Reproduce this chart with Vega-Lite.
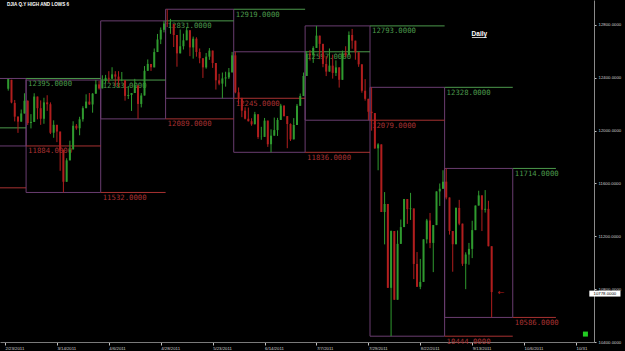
{
  "$schema": "https://vega.github.io/schema/vega-lite/v6.json",
  "width": 594,
  "height": 342,
  "autosize": {"type": "none"},
  "padding": {"left": 0, "top": 0, "right": 31, "bottom": 9},
  "background": "#000000",
  "config": {"view": {"stroke": null}},
  "datasets": {
    "candles": [
      {"t":-6,"o":12318,"h":12391,"l":12303,"c":12391},
      {"t":-5,"o":12385,"h":12385,"l":12207,"c":12213},
      {"t":-4,"o":12210,"h":12232,"l":12070,"c":12106},
      {"t":-3,"o":12105,"h":12110,"l":11983,"c":12068},
      {"t":-2,"o":12068,"h":12160,"l":12068,"c":12130},
      {"t":-1,"o":12130,"h":12283,"l":12130,"c":12226},
      {"t":0,"o":12226,"h":12229,"l":12043,"c":12058},
      {"t":1,"o":12058,"h":12125,"l":12017,"c":12066},
      {"t":2,"o":12066,"h":12283,"l":12066,"c":12258},
      {"t":3,"o":12258,"h":12258,"l":12086,"c":12170},
      {"t":4,"o":12170,"h":12229,"l":12044,"c":12090},
      {"t":5,"o":12090,"h":12249,"l":12052,"c":12214},
      {"t":6,"o":12214,"h":12268,"l":12150,"c":12200},
      {"t":7,"o":12200,"h":12214,"l":11974,"c":11984},
      {"t":8,"o":11984,"h":12078,"l":11946,"c":12044},
      {"t":9,"o":12044,"h":12044,"l":11913,"c":11993},
      {"t":10,"o":11993,"h":11993,"l":11696,"c":11855},
      {"t":11,"o":11855,"h":11855,"l":11532,"c":11613},
      {"t":12,"o":11613,"h":11791,"l":11613,"c":11775},
      {"t":13,"o":11775,"h":11924,"l":11775,"c":11858},
      {"t":14,"o":11858,"h":12071,"l":11858,"c":12037},
      {"t":15,"o":12037,"h":12050,"l":12007,"c":12018},
      {"t":16,"o":12018,"h":12105,"l":11965,"c":12086},
      {"t":17,"o":12086,"h":12185,"l":12068,"c":12170},
      {"t":18,"o":12170,"h":12275,"l":12170,"c":12220},
      {"t":19,"o":12220,"h":12285,"l":12196,"c":12198},
      {"t":20,"o":12198,"h":12284,"l":12136,"c":12280},
      {"t":21,"o":12280,"h":12383,"l":12279,"c":12350},
      {"t":22,"o":12350,"h":12376,"l":12311,"c":12320},
      {"t":23,"o":12320,"h":12419,"l":12320,"c":12377},
      {"t":24,"o":12377,"h":12422,"l":12356,"c":12400},
      {"t":25,"o":12400,"h":12450,"l":12364,"c":12393},
      {"t":26,"o":12393,"h":12480,"l":12393,"c":12426},
      {"t":27,"o":12426,"h":12450,"l":12336,"c":12409},
      {"t":28,"o":12409,"h":12450,"l":12330,"c":12380},
      {"t":29,"o":12380,"h":12444,"l":12373,"c":12381},
      {"t":30,"o":12381,"h":12381,"l":12227,"c":12263},
      {"t":31,"o":12263,"h":12338,"l":12240,"c":12270},
      {"t":32,"o":12270,"h":12285,"l":12149,"c":12285},
      {"t":33,"o":12285,"h":12392,"l":12285,"c":12342},
      {"t":34,"o":12342,"h":12342,"l":12089,"c":12202},
      {"t":35,"o":12202,"h":12284,"l":12176,"c":12266},
      {"t":36,"o":12266,"h":12489,"l":12266,"c":12453},
      {"t":37,"o":12453,"h":12539,"l":12453,"c":12505},
      {"t":38,"o":12505,"h":12505,"l":12452,"c":12479},
      {"t":39,"o":12479,"h":12622,"l":12479,"c":12595},
      {"t":40,"o":12595,"h":12732,"l":12595,"c":12690},
      {"t":41,"o":12690,"h":12781,"l":12655,"c":12763},
      {"t":42,"o":12763,"h":12831,"l":12744,"c":12811},
      {"t":43,"o":12811,"h":12919,"l":12784,"c":12807},
      {"t":44,"o":12807,"h":12846,"l":12733,"c":12808},
      {"t":45,"o":12808,"h":12808,"l":12633,"c":12724},
      {"t":46,"o":12724,"h":12724,"l":12484,"c":12585},
      {"t":47,"o":12585,"h":12766,"l":12585,"c":12639},
      {"t":48,"o":12639,"h":12734,"l":12614,"c":12684},
      {"t":49,"o":12684,"h":12785,"l":12684,"c":12760},
      {"t":50,"o":12760,"h":12760,"l":12564,"c":12630},
      {"t":51,"o":12630,"h":12712,"l":12545,"c":12696},
      {"t":52,"o":12696,"h":12707,"l":12560,"c":12595},
      {"t":53,"o":12595,"h":12622,"l":12510,"c":12548},
      {"t":54,"o":12548,"h":12548,"l":12399,"c":12479},
      {"t":55,"o":12479,"h":12588,"l":12469,"c":12560},
      {"t":56,"o":12560,"h":12625,"l":12536,"c":12606},
      {"t":57,"o":12606,"h":12606,"l":12475,"c":12512},
      {"t":58,"o":12512,"h":12512,"l":12311,"c":12381},
      {"t":59,"o":12381,"h":12430,"l":12344,"c":12356},
      {"t":60,"o":12356,"h":12440,"l":12245,"c":12395},
      {"t":61,"o":12395,"h":12446,"l":12333,"c":12403},
      {"t":62,"o":12403,"h":12474,"l":12391,"c":12441},
      {"t":63,"o":12441,"h":12596,"l":12441,"c":12570},
      {"t":64,"o":12570,"h":12597,"l":12283,"c":12290},
      {"t":65,"o":12290,"h":12327,"l":12201,"c":12248},
      {"t":66,"o":12248,"h":12248,"l":12102,"c":12151},
      {"t":67,"o":12151,"h":12177,"l":12085,"c":12090},
      {"t":68,"o":12090,"h":12175,"l":12070,"c":12071},
      {"t":69,"o":12071,"h":12094,"l":12037,"c":12048},
      {"t":70,"o":12048,"h":12142,"l":12048,"c":12124},
      {"t":71,"o":12124,"h":12124,"l":11938,"c":11952},
      {"t":72,"o":11952,"h":12029,"l":11931,"c":11953},
      {"t":73,"o":11953,"h":12096,"l":11953,"c":12076},
      {"t":74,"o":12076,"h":12076,"l":11877,"c":11897},
      {"t":75,"o":11897,"h":12010,"l":11836,"c":11962},
      {"t":76,"o":11962,"h":12099,"l":11962,"c":12004},
      {"t":77,"o":12004,"h":12097,"l":11960,"c":12081},
      {"t":78,"o":12081,"h":12203,"l":12081,"c":12190},
      {"t":79,"o":12190,"h":12190,"l":12107,"c":12110},
      {"t":80,"o":12110,"h":12110,"l":11867,"c":12050},
      {"t":81,"o":12050,"h":12055,"l":11922,"c":11934},
      {"t":82,"o":11934,"h":12095,"l":11934,"c":12043},
      {"t":83,"o":12043,"h":12202,"l":12043,"c":12188},
      {"t":84,"o":12188,"h":12281,"l":12188,"c":12262},
      {"t":85,"o":12262,"h":12440,"l":12262,"c":12414},
      {"t":86,"o":12414,"h":12599,"l":12414,"c":12582},
      {"t":87,"o":12582,"h":12610,"l":12531,"c":12570},
      {"t":88,"o":12570,"h":12639,"l":12513,"c":12626},
      {"t":89,"o":12626,"h":12793,"l":12626,"c":12719},
      {"t":90,"o":12719,"h":12719,"l":12541,"c":12657},
      {"t":91,"o":12657,"h":12657,"l":12480,"c":12505},
      {"t":92,"o":12505,"h":12566,"l":12413,"c":12447},
      {"t":93,"o":12447,"h":12622,"l":12447,"c":12492},
      {"t":94,"o":12492,"h":12575,"l":12394,"c":12437},
      {"t":95,"o":12437,"h":12532,"l":12414,"c":12479},
      {"t":96,"o":12479,"h":12479,"l":12326,"c":12385},
      {"t":97,"o":12385,"h":12606,"l":12385,"c":12587},
      {"t":98,"o":12587,"h":12639,"l":12556,"c":12571},
      {"t":99,"o":12571,"h":12751,"l":12571,"c":12724},
      {"t":100,"o":12724,"h":12770,"l":12620,"c":12681},
      {"t":101,"o":12681,"h":12681,"l":12537,"c":12593},
      {"t":102,"o":12593,"h":12593,"l":12483,"c":12502},
      {"t":103,"o":12502,"h":12502,"l":12287,"c":12302},
      {"t":104,"o":12302,"h":12390,"l":12227,"c":12241},
      {"t":105,"o":12241,"h":12241,"l":12079,"c":12143},
      {"t":106,"o":12143,"h":12328,"l":12000,"c":12133},
      {"t":107,"o":12133,"h":12133,"l":11862,"c":11866},
      {"t":108,"o":11866,"h":11905,"l":11700,"c":11896},
      {"t":109,"o":11896,"h":11896,"l":11384,"c":11384},
      {"t":110,"o":11384,"h":11535,"l":11139,"c":11445},
      {"t":111,"o":11445,"h":11445,"l":10810,"c":10810},
      {"t":112,"o":10810,"h":11244,"l":10444,"c":11240},
      {"t":113,"o":11240,"h":11240,"l":10719,"c":10720},
      {"t":114,"o":10720,"h":11244,"l":10720,"c":11143},
      {"t":115,"o":11143,"h":11327,"l":11143,"c":11270},
      {"t":116,"o":11270,"h":11483,"l":11270,"c":11482},
      {"t":117,"o":11482,"h":11482,"l":11294,"c":11406},
      {"t":118,"o":11406,"h":11529,"l":11324,"c":11411},
      {"t":119,"o":11411,"h":11411,"l":10876,"c":10991},
      {"t":120,"o":10991,"h":11081,"l":10817,"c":10818},
      {"t":121,"o":10818,"h":11029,"l":10800,"c":10855},
      {"t":122,"o":10855,"h":11177,"l":10855,"c":11177},
      {"t":123,"o":11177,"h":11332,"l":11146,"c":11320},
      {"t":124,"o":11320,"h":11377,"l":11110,"c":11150},
      {"t":125,"o":11150,"h":11286,"l":10929,"c":11285},
      {"t":126,"o":11285,"h":11540,"l":11285,"c":11540},
      {"t":127,"o":11540,"h":11600,"l":11430,"c":11560},
      {"t":128,"o":11560,"h":11700,"l":11560,"c":11614},
      {"t":129,"o":11614,"h":11714,"l":11480,"c":11494},
      {"t":130,"o":11494,"h":11494,"l":11213,"c":11240},
      {"t":131,"o":11240,"h":11240,"l":10932,"c":11140},
      {"t":132,"o":11140,"h":11419,"l":11140,"c":11415},
      {"t":133,"o":11415,"h":11476,"l":11284,"c":11296},
      {"t":134,"o":11296,"h":11296,"l":10976,"c":10992},
      {"t":135,"o":10992,"h":11079,"l":10800,"c":11062},
      {"t":136,"o":11062,"h":11150,"l":10985,"c":11105},
      {"t":137,"o":11105,"h":11318,"l":11035,"c":11247},
      {"t":138,"o":11247,"h":11433,"l":11247,"c":11433},
      {"t":139,"o":11433,"h":11545,"l":11433,"c":11510},
      {"t":140,"o":11510,"h":11510,"l":11240,"c":11401},
      {"t":141,"o":11401,"h":11550,"l":11380,"c":11408},
      {"t":142,"o":11408,"h":11469,"l":11124,"c":11125},
      {"t":143,"o":11125,"h":11125,"l":10586,"c":10778}
    ],
    "boxes": [
      {"t0":-25.5,"t1":-0.5,"hi":12395,"lo":11884},
      {"t0":-0.5,"t1":22.5,"hi":12383,"lo":11532},
      {"t0":22.5,"t1":42.5,"hi":12831,"lo":12089},
      {"t0":42.5,"t1":63.5,"hi":12919,"lo":12245},
      {"t0":63.5,"t1":85.5,"hi":12597,"lo":11836},
      {"t0":85.5,"t1":105.5,"hi":12793,"lo":12079},
      {"t0":105.5,"t1":128.5,"hi":12328,"lo":10444},
      {"t0":128.5,"t1":149.5,"hi":11714,"lo":10586}
    ],
    "levels": [
      {"t0":-25.5,"t1":-0.5,"v":12021,"kind":"high"},
      {"t0":-25.5,"t1":-0.5,"v":11567,"kind":"low"},
      {"t0":-0.5,"t1":22.5,"v":12395,"kind":"high"},
      {"t0":-0.5,"t1":22.5,"v":11884,"kind":"low"},
      {"t0":22.5,"t1":42.5,"v":12383,"kind":"high"},
      {"t0":22.5,"t1":42.5,"v":11532,"kind":"low"},
      {"t0":42.5,"t1":63.5,"v":12831,"kind":"high"},
      {"t0":42.5,"t1":63.5,"v":12089,"kind":"low"},
      {"t0":63.5,"t1":85.5,"v":12919,"kind":"high"},
      {"t0":63.5,"t1":85.5,"v":12245,"kind":"low"},
      {"t0":85.5,"t1":105.5,"v":12597,"kind":"high"},
      {"t0":85.5,"t1":105.5,"v":11836,"kind":"low"},
      {"t0":105.5,"t1":128.5,"v":12793,"kind":"high"},
      {"t0":105.5,"t1":128.5,"v":12079,"kind":"low"},
      {"t0":128.5,"t1":149.5,"v":12328,"kind":"high"},
      {"t0":128.5,"t1":149.5,"v":10444,"kind":"low"},
      {"t0":149.5,"t1":162.8,"v":11714,"kind":"high"},
      {"t0":149.5,"t1":162.8,"v":10586,"kind":"low"}
    ],
    "title": [{"t":-6.4,"v":12951,"label":"DJIA Q.Y HIGH AND LOWS 6"}],
    "daily": [{"t":139.2,"v":12732,"label":"Daily"}],
    "price": [{"t0":173.1,"t1":182.7,"tm":177.9,"hi":10789,"lo":10744,"v":10766,"label":"10778.0000"}],
    "arrow": [{"t":144.9,"v":10773,"label":"←"}],
    "underline": [{"t0":136.9,"t1":141.5,"v":12705}],
    "marker": [{"t":171.9,"v":10460}]
  },
  "layer": [
    {
      "data": {"name": "boxes"},
      "mark": {"type": "rect", "fill": null, "fillOpacity": 0, "stroke": "#6a3d70", "strokeWidth": 1},
      "encoding": {
        "x": {"field": "t0", "type": "quantitative", "scale": {"domain": [-7, 173], "nice": false, "zero": false},
          "axis": {
            "values": [-7,1,9,17,25,33,41,49,57,65,73,81,89,97,105,113,121,129,137,145,153,161,169],
            "labelExpr": "['2/23/2011','3/3/2011','3/14/2011','3/25/2011','4/6/2011','4/17/2011','4/28/2011','5/11/2011','5/23/2011','6/3/2011','6/14/2011','6/26/2011','7/7/2011','7/18/2011','7/29/2011','8/10/2011','8/22/2011','9/2/2011','9/13/2011','9/25/2011','10/6/2011','10/18/2011','10/31'][round((datum.value+7)/8)]",
            "labelAlign": "left", "labelFontSize": 4.3, "labelColor": "#d0d0d0", "labelFont": "Liberation Sans",
            "labelPadding": 1, "labelOverlap": false, "labelFlush": false, "labelBound": false,
            "tickColor": "#c0c0c0", "tickSize": 3, "domainColor": "#7a7a7a", "grid": false, "title": null
          }},
        "x2": {"field": "t1"},
        "y": {"field": "hi", "type": "quantitative", "scale": {"domain": [10400, 12989], "nice": false, "zero": false},
          "axis": {
            "orient": "right", "values": [10400,10800,11200,11600,12000,12400,12800], "format": ".4f",
            "labelFontSize": 4.3, "labelColor": "#d0d0d0", "labelFont": "Liberation Sans", "labelPadding": 2,
            "tickColor": "#c0c0c0", "tickSize": 2, "domainColor": "#8a8a8a", "grid": false, "title": null
          }},
        "y2": {"field": "lo"}
      }
    },
    {
      "data": {"name": "levels"},
      "mark": {"type": "rule", "strokeWidth": 1},
      "encoding": {
        "x": {"field": "t0", "type": "quantitative", "scale": {"domain": [-7, 173], "nice": false, "zero": false}},
        "x2": {"field": "t1"},
        "y": {"field": "v", "type": "quantitative", "scale": {"domain": [10400, 12989], "nice": false, "zero": false}},
        "color": {"field": "kind", "type": "nominal", "scale": {"domain": ["high", "low"], "range": ["#4c9a4c", "#a83232"]}, "legend": null}
      }
    },
    {
      "data": {"name": "levels"},
      "transform": [{"filter": "datum.t0 > -7"}],
      "mark": {"type": "text", "align": "left", "baseline": "top", "dx": 2, "dy": 1.5, "font": "DejaVu Sans Mono", "fontSize": 7.3},
      "encoding": {
        "x": {"field": "t0", "type": "quantitative", "scale": {"domain": [-7, 173], "nice": false, "zero": false}},
        "y": {"field": "v", "type": "quantitative", "scale": {"domain": [10400, 12989], "nice": false, "zero": false}},
        "text": {"field": "v", "type": "quantitative", "format": ".4f"},
        "color": {"field": "kind", "type": "nominal", "scale": {"domain": ["high", "low"], "range": ["#4c9a4c", "#a83232"]}, "legend": null}
      }
    },
    {
      "data": {"name": "candles"},
      "mark": {"type": "rule", "strokeWidth": 1},
      "encoding": {
        "x": {"field": "t", "type": "quantitative", "scale": {"domain": [-7, 173], "nice": false, "zero": false}},
        "y": {"field": "l", "type": "quantitative", "scale": {"domain": [10400, 12989], "nice": false, "zero": false}},
        "y2": {"field": "h"},
        "color": {"condition": {"test": "datum.c >= datum.o", "value": "#2f9a2f"}, "value": "#b01e1e"}
      }
    },
    {
      "data": {"name": "candles"},
      "mark": {"type": "bar", "width": 2},
      "encoding": {
        "x": {"field": "t", "type": "quantitative", "scale": {"domain": [-7, 173], "nice": false, "zero": false}},
        "y": {"field": "o", "type": "quantitative", "scale": {"domain": [10400, 12989], "nice": false, "zero": false}},
        "y2": {"field": "c"},
        "color": {"condition": {"test": "datum.c >= datum.o", "value": "#2f9a2f"}, "value": "#b01e1e"}
      }
    },
    {
      "data": {"name": "title"},
      "mark": {"type": "text", "align": "left", "baseline": "middle", "font": "Liberation Sans", "fontWeight": "bold", "fontSize": 4.6, "color": "#ffffff"},
      "encoding": {
        "x": {"field": "t", "type": "quantitative", "scale": {"domain": [-7, 173], "nice": false, "zero": false}},
        "y": {"field": "v", "type": "quantitative", "scale": {"domain": [10400, 12989], "nice": false, "zero": false}},
        "text": {"field": "label"}
      }
    },
    {
      "data": {"name": "daily"},
      "mark": {"type": "text", "align": "center", "baseline": "middle", "font": "Liberation Sans", "fontWeight": "bold", "fontSize": 6.5, "color": "#ffffff"},
      "encoding": {
        "x": {"field": "t", "type": "quantitative", "scale": {"domain": [-7, 173], "nice": false, "zero": false}},
        "y": {"field": "v", "type": "quantitative", "scale": {"domain": [10400, 12989], "nice": false, "zero": false}},
        "text": {"field": "label"}
      }
    },
    {
      "data": {"name": "underline"},
      "mark": {"type": "rule", "color": "#ffffff", "strokeWidth": 0.8},
      "encoding": {
        "x": {"field": "t0", "type": "quantitative", "scale": {"domain": [-7, 173], "nice": false, "zero": false}},
        "x2": {"field": "t1"},
        "y": {"field": "v", "type": "quantitative", "scale": {"domain": [10400, 12989], "nice": false, "zero": false}}
      }
    },
    {
      "data": {"name": "arrow"},
      "mark": {"type": "text", "align": "left", "baseline": "middle", "color": "#b01e1e", "fontSize": 8, "font": "DejaVu Sans"},
      "encoding": {
        "x": {"field": "t", "type": "quantitative", "scale": {"domain": [-7, 173], "nice": false, "zero": false}},
        "y": {"field": "v", "type": "quantitative", "scale": {"domain": [10400, 12989], "nice": false, "zero": false}},
        "text": {"field": "label"}
      }
    },
    {
      "data": {"name": "price"},
      "mark": {"type": "rect", "color": "#ffffff"},
      "encoding": {
        "x": {"field": "t0", "type": "quantitative", "scale": {"domain": [-7, 173], "nice": false, "zero": false}},
        "x2": {"field": "t1"},
        "y": {"field": "hi", "type": "quantitative", "scale": {"domain": [10400, 12989], "nice": false, "zero": false}},
        "y2": {"field": "lo"}
      }
    },
    {
      "data": {"name": "price"},
      "mark": {"type": "text", "align": "center", "baseline": "middle", "color": "#000000", "fontSize": 4.3, "font": "Liberation Sans"},
      "encoding": {
        "x": {"field": "tm", "type": "quantitative", "scale": {"domain": [-7, 173], "nice": false, "zero": false}},
        "y": {"field": "v", "type": "quantitative", "scale": {"domain": [10400, 12989], "nice": false, "zero": false}},
        "text": {"field": "label"}
      }
    },
    {
      "data": {"name": "marker"},
      "mark": {"type": "square", "color": "#22cc22", "opacity": 1, "size": 25},
      "encoding": {
        "x": {"field": "t", "type": "quantitative", "scale": {"domain": [-7, 173], "nice": false, "zero": false}},
        "y": {"field": "v", "type": "quantitative", "scale": {"domain": [10400, 12989], "nice": false, "zero": false}}
      }
    }
  ]
}
